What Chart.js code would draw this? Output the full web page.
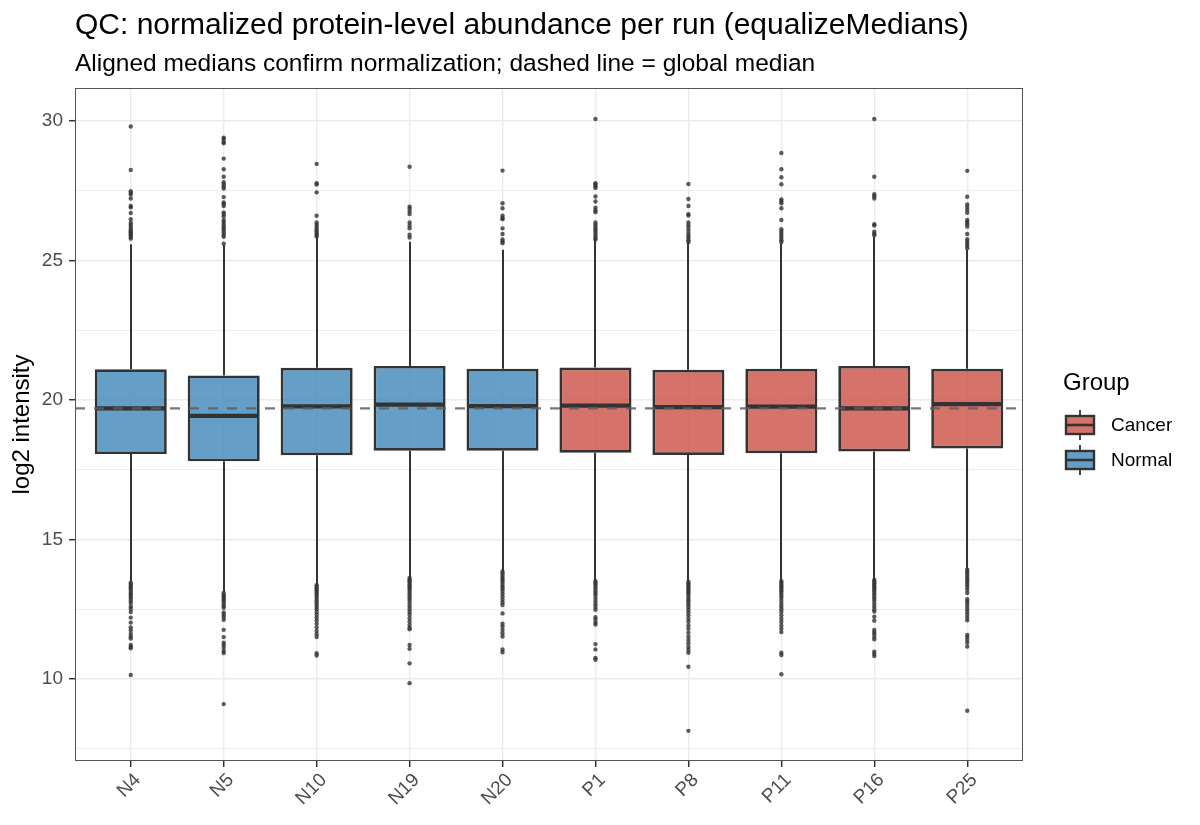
<!DOCTYPE html>
<html><head><meta charset="utf-8">
<script src="https://cdn.jsdelivr.net/npm/chart.js@4/dist/chart.umd.min.js"></script>
<style>html,body{margin:0;padding:0;background:#fff}#wrap{width:1200px;height:825px}</style>
</head><body><div id="wrap"><canvas id="c" width="1200" height="825"></canvas></div>
<script>
// ---------- data ----------
const runs   = ['N4','N5','N10','N19','N20','P1','P8','P11','P16','P25'];
const groups = ['Normal','Normal','Normal','Normal','Normal','Cancer','Cancer','Cancer','Cancer','Cancer'];
const q1          = [18.06, 17.80, 18.02, 18.18, 18.18, 18.11, 18.03, 18.09, 18.15, 18.26];
const median      = [19.70, 19.43, 19.77, 19.83, 19.78, 19.80, 19.74, 19.76, 19.70, 19.85];
const q3          = [21.10, 20.88, 21.15, 21.22, 21.12, 21.16, 21.08, 21.12, 21.22, 21.12];
const whiskerLow  = [13.49, 13.13, 13.37, 13.64, 13.85, 13.51, 13.49, 13.51, 13.55, 13.93];
const whiskerHigh = [25.58, 25.55, 25.85, 25.67, 25.38, 25.73, 25.64, 25.62, 25.85, 25.38];
const globalMedian = 19.7;

const outN4  = [29.80,28.24,27.48,27.42,27.36,27.22,26.95,26.90,26.70,26.48,26.35,26.28,26.20,26.12,26.05,26.00,25.95,25.90,25.84,25.78,
                13.45,13.40,13.34,13.28,13.22,13.15,13.08,13.02,12.95,12.88,12.80,12.72,12.60,12.52,12.40,12.20,12.02,11.85,11.75,11.62,11.52,11.45,11.22,11.15,11.10,10.14];
const outN5  = [29.40,29.35,29.25,29.20,28.65,28.27,28.00,27.80,27.72,27.65,27.58,27.27,27.08,27.02,26.95,26.72,26.66,26.58,26.45,26.38,26.30,26.22,26.15,26.08,26.00,25.92,25.85,25.60,
                13.08,13.02,12.96,12.90,12.84,12.78,12.70,12.62,12.55,12.38,12.30,12.22,12.12,11.76,11.50,11.30,11.22,11.12,11.00,10.93,9.10];
const outN10 = [28.46,27.77,27.72,27.44,26.60,26.36,26.28,26.20,26.12,26.05,25.98,25.92,25.86,
                13.36,13.30,13.24,13.18,13.12,13.05,12.98,12.90,12.82,12.74,12.66,12.58,12.50,12.40,12.30,12.20,12.10,11.98,11.85,11.72,11.60,11.50,10.92,10.84];
const outN19 = [28.36,26.93,26.85,26.75,26.66,26.36,26.25,26.15,25.92,25.82,
                13.62,13.56,13.50,13.44,13.38,13.32,13.26,13.20,13.12,13.04,12.96,12.88,12.80,12.70,12.60,12.50,12.40,12.30,12.18,12.06,11.94,11.84,11.78,11.22,11.08,10.56,9.85];
const outN20 = [28.22,27.05,26.87,26.60,26.52,26.48,26.15,25.95,25.75,25.68,25.62,
                13.85,13.78,13.70,13.62,13.55,13.48,13.40,13.32,13.24,13.16,13.06,12.96,12.85,12.75,12.65,12.35,11.98,11.88,11.76,11.64,11.52,11.06,10.96];
const outP1  = [30.07,27.77,27.72,27.66,27.60,27.29,27.11,26.89,26.80,26.73,26.36,26.28,26.20,26.12,26.04,25.96,25.88,25.80,25.75,
                13.50,13.44,13.38,13.30,13.22,13.14,13.06,12.98,12.88,12.78,12.68,12.58,12.48,12.21,12.12,12.02,11.95,11.25,11.06,10.75,10.69];
const outP8  = [27.74,27.20,26.95,26.66,26.61,26.36,26.26,26.16,26.06,25.96,25.88,25.80,25.72,25.66,
                13.48,13.42,13.36,13.30,13.24,13.18,13.12,13.06,12.98,12.90,12.82,12.74,12.66,12.58,12.48,12.38,12.28,12.16,12.05,11.92,11.80,11.66,11.52,11.40,11.28,11.15,11.04,10.94,10.44,8.14];
const outP11 = [28.85,28.27,27.98,27.73,27.19,27.12,27.05,26.87,26.45,26.12,26.04,25.96,25.88,25.80,25.72,25.66,
                13.50,13.44,13.38,13.32,13.26,13.20,13.14,13.06,12.98,12.90,12.80,12.70,12.60,12.50,12.40,12.28,12.16,12.04,11.92,11.80,11.68,10.94,10.86,10.17];
const outP16 = [30.07,28.00,27.37,27.30,27.22,26.30,26.25,26.03,25.96,25.90,
                13.55,13.49,13.43,13.37,13.31,13.25,13.19,13.12,13.04,12.96,12.88,12.80,12.70,12.60,12.50,12.42,12.23,12.09,11.76,11.68,11.60,11.50,11.42,10.98,10.90,10.82];
const outP25 = [28.21,27.28,27.01,26.92,26.82,26.71,26.45,26.38,26.30,26.21,25.95,25.76,25.68,25.60,25.52,25.44,
                13.92,13.85,13.78,13.70,13.62,13.54,13.46,13.38,13.30,13.20,13.08,12.86,12.78,12.70,12.60,12.50,12.40,12.30,12.20,12.10,11.58,11.50,11.40,11.30,11.16,8.86];
const outliers = [outN4, outN5, outN10, outN19, outN20, outP1, outP8, outP11, outP16, outP25];

const yTickValues = [7.5, 10, 12.5, 15, 17.5, 20, 22.5, 25, 27.5, 30];
const legendGroups = ['Cancer', 'Normal'];

// ---------- style ----------
const FONT = '"Liberation Sans", Arial, Helvetica, sans-serif';
const fillColors = { Cancer: 'rgba(202,80,70,0.8)', Normal: 'rgba(62,134,184,0.8)' };
const EDGE = '#333333';

const boxData = runs.map((r, i) => ({ x: i + 1, y: [q1[i], q3[i]] }));
const pointData = [];
outliers.forEach((arr, i) => arr.forEach(v => pointData.push({ x: i + 1, y: v })));

const boxPlugin = {
  id: 'boxExtras',
  beforeDatasetsDraw(chart) {
    const { ctx, scales: { x, y } } = chart;
    ctx.save();
    ctx.strokeStyle = EDGE; ctx.lineWidth = 2;
    runs.forEach((r, i) => {
      const px = Math.round(x.getPixelForValue(i + 1));
      ctx.beginPath();
      ctx.moveTo(px, y.getPixelForValue(whiskerHigh[i]));
      ctx.lineTo(px, y.getPixelForValue(q3[i]));
      ctx.moveTo(px, y.getPixelForValue(q1[i]));
      ctx.lineTo(px, y.getPixelForValue(whiskerLow[i]));
      ctx.stroke();
    });
    ctx.restore();
  },
  afterDatasetsDraw(chart) {
    const { ctx, scales: { x, y }, chartArea } = chart;
    const meta = chart.getDatasetMeta(0);
    ctx.save();
    ctx.strokeStyle = EDGE; ctx.lineWidth = 4.3;
    meta.data.forEach((bar, i) => {
      const half = bar.width / 2;
      const py = y.getPixelForValue(median[i]);
      ctx.beginPath();
      ctx.moveTo(bar.x - half + 1, py);
      ctx.lineTo(bar.x + half - 1, py);
      ctx.stroke();
    });
    // global median dashed line
    const gy = y.getPixelForValue(globalMedian);
    ctx.strokeStyle = 'rgba(95,95,95,0.85)'; ctx.lineWidth = 2.2;
    ctx.setLineDash([10, 9]);
    ctx.beginPath();
    ctx.moveTo(chartArea.left, gy); ctx.lineTo(chartArea.right, gy);
    ctx.stroke();
    ctx.restore();
  },
  afterDraw(chart) {
    const { ctx, chartArea: a } = chart;
    ctx.save();
    // panel border
    ctx.strokeStyle = '#555'; ctx.lineWidth = 1;
    ctx.strokeRect(Math.round(a.left) + 0.5, Math.round(a.top) + 0.5, Math.round(a.right - a.left) - 1, Math.round(a.bottom - a.top) - 1);
    // titles
    ctx.fillStyle = '#000';
    ctx.textBaseline = 'alphabetic'; ctx.textAlign = 'left';
    ctx.font = '30px ' + FONT;
    ctx.fillText('QC: normalized protein-level abundance per run (equalizeMedians)', 75, 34);
    ctx.font = '24.5px ' + FONT;
    ctx.fillText('Aligned medians confirm normalization; dashed line = global median', 75, 71);
    // y axis title
    ctx.save();
    ctx.translate(22, (a.top + a.bottom) / 2);
    ctx.rotate(-Math.PI / 2);
    ctx.textAlign = 'center'; ctx.textBaseline = 'middle';
    ctx.font = '24px ' + FONT;
    ctx.fillText('log2 intensity', 0, 0);
    ctx.restore();
    // legend
    ctx.textAlign = 'left'; ctx.textBaseline = 'middle';
    ctx.font = '24px ' + FONT;
    ctx.fillText('Group', 1063, 383);
    legendGroups.forEach((g, k) => {
      const cy = 425 + k * 35;
      const lx = 1066, w = 28, h = 18;
      ctx.strokeStyle = EDGE; ctx.lineWidth = 1.8;
      ctx.beginPath();
      ctx.moveTo(lx + w / 2, cy - 15); ctx.lineTo(lx + w / 2, cy + 15); ctx.stroke();
      ctx.fillStyle = '#fff'; ctx.fillRect(lx, cy - h / 2, w, h);
      ctx.fillStyle = fillColors[g]; ctx.fillRect(lx, cy - h / 2, w, h);
      ctx.lineWidth = 2.4; ctx.strokeRect(lx, cy - h / 2, w, h);
      ctx.lineWidth = 2.6;
      ctx.beginPath(); ctx.moveTo(lx, cy); ctx.lineTo(lx + w, cy); ctx.stroke();
      ctx.fillStyle = '#000';
      ctx.font = '19px ' + FONT;
      ctx.fillText(g, 1111, cy + 1);
    });
    ctx.restore();
  }
};

new Chart(document.getElementById('c'), {
  type: 'bar',
  data: {
    datasets: [
      {
        type: 'bar',
        data: boxData,
        backgroundColor: groups.map(g => fillColors[g]),
        borderColor: EDGE,
        borderWidth: 2.7,
        borderSkipped: false,
        barPercentage: 1,
        categoryPercentage: 0.775,
        order: 1
      },
      {
        type: 'scatter',
        data: pointData,
        pointRadius: 2.2,
        pointBackgroundColor: 'rgba(51,51,51,0.8)',
        pointBorderWidth: 0,
        pointHoverRadius: 2.2,
        order: 2
      }
    ]
  },
  options: {
    responsive: false,
    animation: false,
    devicePixelRatio: 1,
    events: [],
    layout: { padding: { top: 88, right: 177, left: 0, bottom: 0 } },
    plugins: { legend: { display: false }, tooltip: { enabled: false }, title: { display: false } },
    scales: {
      x: {
        type: 'linear',
        min: 0.4, max: 10.6,
        offset: false,
        afterBuildTicks: s => { s.ticks = runs.map((r, i) => ({ value: i + 1 })); },
        afterFit: s => { s.height = 64; },
        ticks: {
          autoSkip: false, maxRotation: 45, minRotation: 45,
          color: '#4d4d4d', font: { size: 19, family: FONT }, padding: 2, labelOffset: 7,
          callback: v => runs[Math.round(v) - 1]
        },
        grid: { offset: false, color: '#ebebeb', lineWidth: 1.4, tickLength: 6, tickColor: '#333', tickWidth: 1.5 },
        border: { display: false }
      },
      y: {
        type: 'linear',
        min: 7.06, max: 31.18,
        afterBuildTicks: s => { s.ticks = yTickValues.map(v => ({ value: v })); },
        afterFit: s => { s.width = 75; },
        ticks: {
          color: '#4d4d4d', font: { size: 19, family: FONT }, padding: 6,
          callback: v => (v % 5 === 0 ? String(v) : '')
        },
        grid: {
          color: '#ebebeb',
          lineWidth: c => (c.tick && c.tick.value % 5 === 0 ? 1.4 : 0.8),
          tickLength: 6,
          tickColor: c => (c.tick && c.tick.value % 5 === 0 ? '#333' : 'rgba(0,0,0,0)'),
          tickWidth: 1.5
        },
        border: { display: false }
      }
    }
  },
  plugins: [boxPlugin]
});
</script>
</body></html>
